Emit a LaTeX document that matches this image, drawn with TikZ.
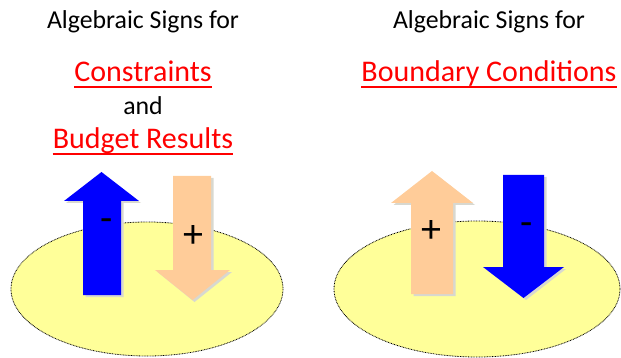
\documentclass[tikz,border=0pt]{standalone}
\usepackage{fontspec}
\setmainfont{Carlito}
\definecolor{ell}{HTML}{FFFF99}
\definecolor{peach}{HTML}{FFCC99}
\definecolor{bl}{HTML}{0000FF}
\definecolor{rd}{HTML}{FF0000}
\definecolor{shd}{HTML}{D8D8D0}
\tikzset{
  ellipsebox/.style={fill=ell, draw=black, line width=0.8pt, dash pattern=on 0.8pt off 0.8pt},
  shadowed/.style={fill=shd},
  headtext/.style={anchor=base, inner sep=0pt, font=\fontsize{25.8}{30}\selectfont},
  redtext/.style={anchor=base, inner sep=0pt, text=rd, font=\fontsize{30}{35}\selectfont},
  uline/.style={draw=rd, line width=1.4pt},
  signtext/.style={inner sep=0pt, font=\fontsize{40}{40}\selectfont}
}
\begin{document}
\begin{tikzpicture}[x=1pt,y=-1pt]
\useasboundingbox (0,0) rectangle (621,358);
% ellipses
\draw[ellipsebox] (147,289) ellipse [x radius=136, y radius=67];
\draw[ellipsebox] (477,289) ellipse [x radius=143, y radius=68];
% left blue up arrow
\fill[shadowed] (85.5,297) -- (85.5,203) -- (66,203) -- (102,174) -- (141,203) -- (123.5,203) -- (123.5,297) -- cycle;
\fill[bl] (83,295) -- (83,201) -- (64,201) -- (101.5,172) -- (139,201) -- (121,201) -- (121,295) -- cycle;
% left peach down arrow
\fill[shadowed] (175.5,178) -- (213.5,178) -- (213.5,272) -- (232,272) -- (194.5,302) -- (157.5,272) -- (175.5,272) -- cycle;
\fill[peach] (173,176) -- (211,176) -- (211,270) -- (230,270) -- (192.5,300) -- (155,270) -- (173,270) -- cycle;
% right peach up arrow
\fill[shadowed] (413.5,296) -- (413.5,205) -- (393.5,205) -- (434,173) -- (475,205) -- (455.5,205) -- (455.5,296) -- cycle;
\fill[peach] (411,294) -- (411,203) -- (391,203) -- (432,171) -- (473,203) -- (453,203) -- (453,294) -- cycle;
% right blue down arrow
\fill[shadowed] (505.5,177) -- (546.5,177) -- (546.5,269) -- (566,269) -- (526,300) -- (485.5,269) -- (505.5,269) -- cycle;
\fill[bl] (503,175) -- (544,175) -- (544,267) -- (564,267) -- (523.5,298) -- (483,267) -- (503,267) -- cycle;
% signs
\node[signtext] (s1) at (107,225) {-};
\node[signtext] (s2) at (193,237) {+};
\node[signtext] (s3) at (431,232) {+};
\node[signtext] (s4) at (527,229) {-};
% texts
\node[headtext] (h1) at (143,29) {Algebraic Signs for};
\node[redtext] (c1) at (143,82) {Constraints};
\node[headtext] (a1) at (143,115) {and};
\node[redtext] (b1) at (143,149) {Budget Results};
\node[headtext] (h2) at (489,29) {Algebraic Signs for};
\node[redtext] (c2) at (489,82) {Boundary Conditions};
% underlines
\draw[uline] ([yshift=-5pt]c1.base west) -- ([yshift=-5pt]c1.base east);
\draw[uline] ([yshift=-5pt]b1.base west) -- ([yshift=-5pt]b1.base east);
\draw[uline] ([yshift=-5pt]c2.base west) -- ([yshift=-5pt]c2.base east);
\end{tikzpicture}
\end{document}
